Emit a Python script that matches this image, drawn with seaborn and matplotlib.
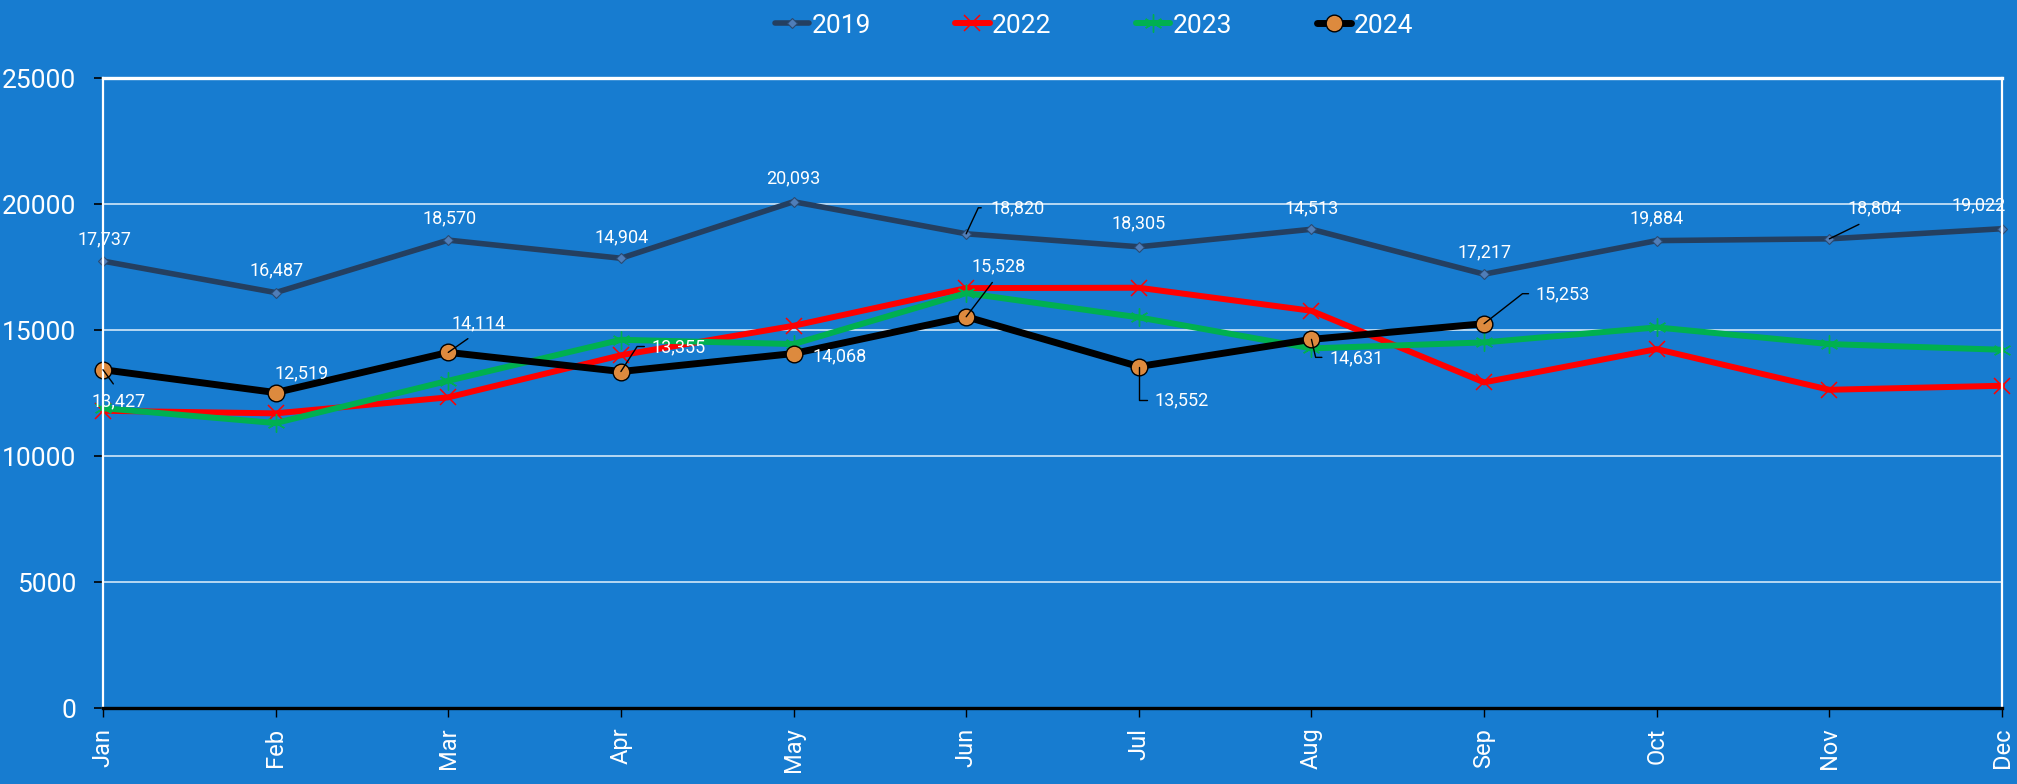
import numpy as np
import pandas as pd
import matplotlib
matplotlib.use("Agg")
import matplotlib.pyplot as plt
import seaborn as sns

# ---------------- data ----------------
months = ["Jan", "Feb", "Mar", "Apr", "May", "Jun", "Jul", "Aug", "Sep", "Oct", "Nov", "Dec"]
sales_2019 = [17737, 16487, 18570, 17850, 20093, 18820, 18305, 19000, 17217, 18550, 18620, 19022]
sales_2022 = [11797, 11694, 12330, 14000, 15170, 16665, 16680, 15765, 12924, 14245, 12630, 12790]
sales_2023 = [11900, 11309, 12988, 14614, 14444, 16467, 15503, 14272, 14510, 15106, 14444, 14218]
sales_2024 = [13427, 12519, 14114, 13355, 14068, 15528, 13552, 14631, 15253]
labels_2019 = ["17,737", "16,487", "18,570", "14,904", "20,093", "18,820",
               "18,305", "14,513", "17,217", "19,884", "18,804", "19,022"]
y_ticks = [0, 5000, 10000, 15000, 20000, 25000]

# ---------------- style ----------------
BG = "#177CD0"
sns.set_theme(style="white")
plt.rcParams["font.family"] = ["Roboto", "DejaVu Sans"]

fig = plt.figure(figsize=(20.17, 7.849), dpi=100, facecolor=BG)
ax = fig.add_axes([103 / 2017, 1 - 709 / 785, (2002 - 103) / 2017, (709 - 79) / 785])
ax.set_facecolor(BG)

series = [
    ("2019", sales_2019, dict(color="#243F60", linewidth=4.0, marker="D", markersize=5,
                              markerfacecolor="#4F7DB8", markeredgecolor="#2A4A72", markeredgewidth=0.8)),
    ("2022", sales_2022, dict(color="#FF0000", linewidth=4.3, marker="x", markersize=12,
                              markeredgecolor="#FF0000", markeredgewidth=1.1)),
    ("2023", sales_2023, dict(color="#00B050", linewidth=4.3, marker=(6, 2, 0), markersize=13,
                              markeredgecolor="#00B050", markeredgewidth=1.0)),
    ("2024", sales_2024, dict(color="#000000", linewidth=5.0, marker="o", markersize=12,
                              markerfacecolor="#DD8A3E", markeredgecolor="#000000", markeredgewidth=1.0)),
]

for name, vals, kw in series:
    df = pd.DataFrame({"month": months[:len(vals)], "value": vals})
    sns.lineplot(data=df, x="month", y="value", ax=ax, label=name, sort=False,
                 clip_on=False, **kw)

# ---------------- axes ----------------
ax.set_xlim(0, len(months) - 1)
ax.set_ylim(y_ticks[0], y_ticks[-1])
ax.set_yticks(y_ticks)
ax.set_yticklabels([str(t) for t in y_ticks])
ax.set_xlabel("")
ax.set_ylabel("")
ax.yaxis.grid(True, color="#D2E7F8", linewidth=1.2)
ax.xaxis.grid(False)
ax.set_axisbelow(True)

for side, col, lw in [("top", "white", 2.4), ("right", "white", 1.6),
                      ("left", "white", 1.6), ("bottom", "black", 2.4)]:
    ax.spines[side].set_color(col)
    ax.spines[side].set_linewidth(lw)
    ax.spines[side].set_visible(True)

ax.tick_params(axis="y", direction="out", length=6.5, width=1.2, color="black",
               labelcolor="white", labelsize=19, pad=13, left=True)
ax.tick_params(axis="x", direction="out", length=6.5, width=1.0, color="black",
               labelcolor="white", labelsize=17, pad=7, bottom=True, labelrotation=90)

# ---------------- data labels ----------------
lab_kw = dict(textcoords="offset pixels", ha="center", va="center", color="white",
              fontsize=13, zorder=6)


def leader(rel, shrink, elbow):
    kw = dict(arrowstyle="-", color="black", lw=1.0, relpos=rel,
              shrinkA=shrink, shrinkB=0)
    if elbow is not None:
        kw["connectionstyle"] = f"angle,angleA=0,angleB={elbow},rad=0"
    return kw


# (dx, dy, leader relpos or None, shrink, elbow angle at the point or None)
pos_2019 = [(1, 23, None, 0, None), (1, 23, None, 0, None), (1, 23, None, 0, None),
            (1, 22, None, 0, None), (0, 24, None, 0, None), (51, 26, (0, 0.5), 4, 65),
            (0, 24, None, 0, None), (0, 22, None, 0, None), (0, 23, None, 0, None),
            (0, 23, None, 0, None), (45, 31, (0.5, 0), 7, None), (-23, 24, None, 0, None)]
pos_2024 = [(16, -31, (0.5, 1), 4, None), (26, 20, None, 0, None), (30, 30, (0.5, 0), 5, None),
            (58, 25, (0, 0.5), 3, 57), (46, -2, None, 0, None), (32, 51, (0.5, 0), 4, None),
            (43, -33, (0, 0.5), 3, 90), (45, -18, (0, 0.5), 3, 103), (79, 30, (0, 0.5), 3, 38)]

for i, (txt, v) in enumerate(zip(labels_2019, sales_2019)):
    dx, dy, rel, sh, el = pos_2019[i]
    ap = leader(rel, sh, el) if rel is not None else None
    ax.annotate(txt, xy=(i, v), xytext=(dx, dy), arrowprops=ap, annotation_clip=False, **lab_kw)

for i, v in enumerate(sales_2024):
    dx, dy, rel, sh, el = pos_2024[i]
    ap = leader(rel, sh, el) if rel is not None else None
    ax.annotate(f"{v:,}", xy=(i, v), xytext=(dx, dy), arrowprops=ap, annotation_clip=False, **lab_kw)

# ---------------- legend ----------------
handles, labels = ax.get_legend_handles_labels()
leg = ax.legend(handles, labels, loc="center", bbox_to_anchor=(1094 / 2017, 1 - 26 / 785),
                bbox_transform=fig.transFigure, ncol=4, frameon=False, fontsize=19,
                handlelength=1.3, handletextpad=0.1, columnspacing=3.2)
for t in leg.get_texts():
    t.set_color("white")

fig.savefig("out.png", dpi=100, facecolor=BG)
